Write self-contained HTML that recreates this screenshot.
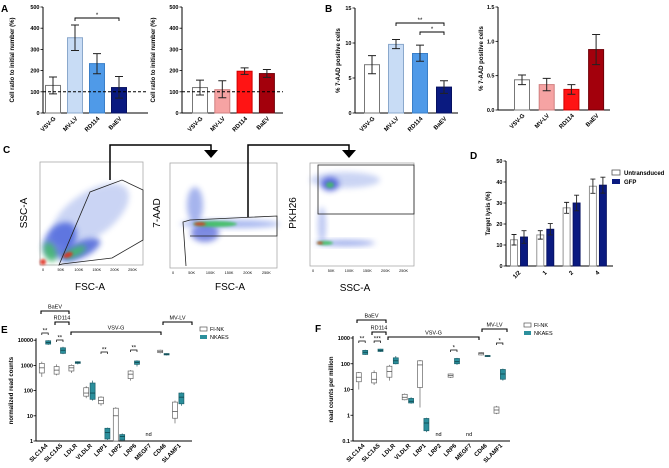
<!DOCTYPE html>
<html><head><meta charset="utf-8"><style>
html,body{margin:0;padding:0;background:#fff}
svg{display:block;font-family:"Liberation Sans",Arial,sans-serif}
</style></head><body>
<svg id="fig" width="669" height="468" viewBox="0 0 669 468" xmlns="http://www.w3.org/2000/svg">
<defs>
<filter id="blur3" x="-50%" y="-50%" width="200%" height="200%"><feGaussianBlur stdDeviation="3"/></filter>
<filter id="blur1" x="-50%" y="-50%" width="200%" height="200%"><feGaussianBlur stdDeviation="1.2"/></filter>
</defs>
<g font-weight="bold" font-size="10">
<text x="1" y="12">A</text>
<text x="325" y="12">B</text>
<text x="3" y="153">C</text>
<text x="470" y="159">D</text>
<text x="1" y="333">E</text>
<text x="315" y="332">F</text>
</g>
<g id="flow"></g>
</svg>
<script>
const NS="http://www.w3.org/2000/svg";
const svg=document.getElementById('fig');
function mk(tag,attrs,parent,text){const e=document.createElementNS(NS,tag);for(const k in attrs)e.setAttribute(k,attrs[k]);if(text!==undefined)e.textContent=text;(parent||svg).appendChild(e);return e;}

// ---------- DATA ----------
const envCats=["VSV-G","MV-LV","RD114","BaEV"];
const aLeftVals=[130,355,233,120];
const aLeftHi=[170,415,280,172];
const aLeftLo=[90,295,185,70];
const aRightVals=[120,110,197,186];
const aRightHi=[155,152,213,205];
const aRightLo=[85,72,182,168];
const aTicks=[0,100,200,300,400,500];
const bLeftVals=[6.9,9.8,8.5,3.7];
const bLeftHi=[8.2,10.5,9.7,4.6];
const bLeftLo=[5.6,9.2,7.4,2.8];
const bLeftTicks=[0,5,10,15];
const bRightVals=[0.44,0.37,0.30,0.88];
const bRightHi=[0.51,0.46,0.37,1.10];
const bRightLo=[0.37,0.28,0.23,0.66];
const bRightTicks=[0,0.5,1.0,1.5];

const dCats=["1/2","1","2","4"];
const dUntrans=[12.5,14.8,27.7,38.0];
const dUntransErr=[2.5,2.0,2.6,3.4];
const dGFP=[13.8,17.5,30.0,38.5];
const dGFPErr=[3.0,2.7,3.7,3.8];
const dTicks=[0,10,20,30,40,50];

const geneCats=["SLC1A4","SLC1A5","LDLR","VLDLR","LRP1","LRP2","LRP6","MEGF7","CD46","SLAMF1"];
// [min,q1,median,q3,max] or null = nd
const eFlnk=[[350,500,800,1200,1400],[400,450,650,900,1100],[500,600,800,1000,1100],[50,60,80,130,150],[25,30,40,55,60],[1,1,10,20,22],[250,300,450,600,650],null,[3000,3200,3500,4000,4200],[5,8,15,35,40]];
const eNkaes=[[6500,7000,8000,9500,10000],[2800,3000,4000,5000,5500],[1100,1200,1300,1400,1450],[40,45,80,200,250],[1.1,1.2,2.2,3.2,3.4],[1,1.1,1.5,1.8,2],[900,1100,1300,1500,1600],null,[2500,2600,2800,2950,3000],[25,30,55,80,85]];
const eTicks=[1,10,100,1000,10000];
const fFlnk=[[10,20,30,45,48],[15,18,25,45,55],[22,30,50,80,90],[3.8,4,5,6.5,7],[2,12,90,130,140],null,[28,30,35,40,42],null,[210,220,250,270,280],[1.1,1.2,1.6,2.1,2.3]];
const fNkaes=[[220,230,280,330,350],[290,300,330,370,380],[95,100,130,170,200],[2.8,3,3.5,4.5,5],[0.22,0.25,0.5,0.75,0.8],null,[90,100,120,160,170],null,[185,190,200,210,215],[22,25,40,60,65]];
const fTicks=[0.1,1,10,100,1000];

// ---------- BAR CHART ----------
function barChart(o){
  const g=mk('g',{});
  
  
  const y=v=>o.y0-(v-o.min)/(o.max-o.min)*(o.y0-o.yTop);
  mk('line',{x1:o.ax,y1:o.yTop,x2:o.ax,y2:o.y0,stroke:'#000','stroke-width':1},g);
  mk('line',{x1:o.ax,y1:o.y0,x2:o.axEnd,y2:o.y0,stroke:'#000','stroke-width':1},g);
  o.ticks.forEach(t=>{
    mk('line',{x1:o.ax-2.5,y1:y(t),x2:o.ax,y2:y(t),stroke:'#000','stroke-width':0.8},g);
    const tl=mk('text',{x:o.ax-3.5,y:y(t)+2,'font-size':5.5,'font-weight':'bold','text-anchor':'end'},g,o.fmt?o.fmt(t):t);
    
    
  });
  const yl=mk('text',{transform:`translate(${o.ylx},${(o.y0+o.yTop)/2}) rotate(-90)`,'font-size':6,'font-weight':'bold','text-anchor':'middle'},g,o.ylabel);
  
  
  o.cats.forEach((c,i)=>{
    const cx=o.first+i*o.step;
    const r=mk('rect',{x:cx-o.bw/2,y:y(o.vals[i]),width:o.bw,height:o.y0-y(o.vals[i]),fill:o.colors[i],stroke:o.strokes[i],'stroke-width':1},g);
    
    
    const e=mk('path',{d:`M${cx-4},${y(o.hi[i])}H${cx+4}M${cx},${y(o.hi[i])}V${y(o.lo[i])}M${cx-4},${y(o.lo[i])}H${cx+4}`,stroke:'#222','stroke-width':1,fill:'none'},g);
    
    
    const xl=mk('text',{transform:`translate(${cx+3},${o.y0+6}) rotate(-45)`,'font-size':6,'font-weight':'bold','text-anchor':'end'},g,c);
    
    
  });
  if(o.dash!==undefined){
    const d=mk('line',{x1:o.ax,y1:y(o.dash),x2:o.axEnd,y2:y(o.dash),stroke:'#000','stroke-width':1,'stroke-dasharray':'3,2'},g);
    
    
  }
  (o.sig||[]).forEach(s=>{
    const x1=o.first+s[0]*o.step,x2=o.first+s[1]*o.step;
    const b=mk('path',{d:`M${x1},${s[2]+3}V${s[2]}H${x2}V${s[2]+3}`,stroke:'#000','stroke-width':0.9,fill:'none'},g);
    
    
    mk('text',{x:(x1+x2)/2,y:s[2]-1,'font-size':6,'text-anchor':'middle'},g,s[3]);
  });
}
barChart({name:'chart-a-left',ax:43,axEnd:148,y0:113,yTop:7,min:0,max:500,ticks:aTicks,cats:envCats,vals:aLeftVals,hi:aLeftHi,lo:aLeftLo,first:53,step:22,bw:15,
 colors:['#fff','#c8dcf5','#4f9ae8','#0a1a80'],strokes:['#777','#8aa8cc','#3a7fc8','#061060'],ylx:14,ylabel:'Cell ratio to initial number (%)',dash:100,sig:[[1,3,18,'*']]});
barChart({name:'chart-a-right',ax:182,axEnd:283,y0:113,yTop:7,min:0,max:500,ticks:aTicks,cats:envCats,vals:aRightVals,hi:aRightHi,lo:aRightLo,first:200,step:22.3,bw:15,
 colors:['#fff','#f6a3a3','#ff1414','#a3000c'],strokes:['#777','#d08080','#d00000','#700008'],ylx:155,ylabel:'Cell ratio to initial number (%)',dash:100});
barChart({name:'chart-b-left',ax:355,axEnd:458,y0:113,yTop:8,min:0,max:15,ticks:bLeftTicks,cats:envCats,vals:bLeftVals,hi:bLeftHi,lo:bLeftLo,first:372,step:24,bw:15,
 colors:['#fff','#c8dcf5','#4f9ae8','#0a1a80'],strokes:['#777','#8aa8cc','#3a7fc8','#061060'],ylx:340,ylabel:'% 7-AAD positive cells',sig:[[1,3,23,'**'],[2,3,32,'*']]});
barChart({name:'chart-b-right',ax:498,axEnd:610,y0:110,yTop:7,min:0,max:1.5,ticks:bRightTicks,cats:envCats,vals:bRightVals,hi:bRightHi,lo:bRightLo,first:522,step:24.7,bw:15,fmt:t=>t.toFixed(1),
 colors:['#fff','#f6a3a3','#ff1414','#a3000c'],strokes:['#777','#d08080','#d00000','#700008'],ylx:483,ylabel:'% 7-AAD positive cells'});

// ---------- D grouped bars ----------
(function(){
  const g=mk('g',{});
  
  
  const ax=506,y0=266,yTop=161,max=50;
  const y=v=>y0-v/max*(y0-yTop);
  mk('line',{x1:ax,y1:yTop,x2:ax,y2:y0,stroke:'#000'},g);
  mk('line',{x1:ax,y1:y0,x2:613,y2:y0,stroke:'#000'},g);
  dTicks.forEach(t=>{mk('line',{x1:ax-2.5,y1:y(t),x2:ax,y2:y(t),stroke:'#000','stroke-width':0.8},g);
    mk('text',{x:ax-3.5,y:y(t)+2,'font-size':5.5,'font-weight':'bold','text-anchor':'end'},g,t);});
  mk('text',{transform:`translate(490,${(y0+yTop)/2}) rotate(-90)`,'font-size':6,'font-weight':'bold','text-anchor':'middle'},g,'Target lysis (%)');
  dCats.forEach((c,i)=>{
    const cx=519+i*26.3;
    [[dUntrans,dUntransErr,'#fff','#888',-5],[dGFP,dGFPErr,'#0a1a80','#061060',5]].forEach(s=>{
      const bx=cx+s[4],v=s[0][i],e=s[1][i];
      const r=mk('rect',{x:bx-3.5,y:y(v),width:7,height:y0-y(v),fill:s[2],stroke:s[3],'stroke-width':0.9},g);
      
      
      mk('path',{d:`M${bx-2.5},${y(v+e)}H${bx+2.5}M${bx},${y(v+e)}V${y(v-e)}M${bx-2.5},${y(v-e)}H${bx+2.5}`,stroke:'#222','stroke-width':0.9,fill:'none'},g);
    });
    mk('text',{transform:`translate(${cx+2},${y0+7}) rotate(-45)`,'font-size':6,'font-weight':'bold','text-anchor':'end'},g,c);
  });
  const l1=mk('rect',{x:612,y:170,width:8,height:5,fill:'#fff',stroke:'#555','stroke-width':0.8},g);
  
  mk('text',{x:624,y:175,'font-size':6,'font-weight':'bold'},g,'Untransduced');
  const l2=mk('rect',{x:612,y:179,width:8,height:5,fill:'#0a1a80'},g);
  
  mk('text',{x:624,y:184,'font-size':6,'font-weight':'bold'},g,'GFP');
})();

// ---------- BOX PLOTS ----------
function boxChart(o){
  const g=mk('g',{});
  
  
  const lmin=Math.log10(o.ticks[0]);
  const y=v=>o.y0-(Math.log10(v)-lmin)*o.dec;
  mk('line',{x1:o.ax,y1:o.y0-(o.ticks.length-1)*o.dec-2,x2:o.ax,y2:o.y0,stroke:'#000'},g);
  mk('line',{x1:o.ax,y1:o.y0,x2:o.axEnd,y2:o.y0,stroke:'#000'},g);
  o.ticks.forEach(t=>{mk('line',{x1:o.ax-2.5,y1:y(t),x2:o.ax,y2:y(t),stroke:'#000','stroke-width':0.8},g);
    mk('text',{x:o.ax-3,y:y(t)+2,'font-size':5.5,'font-weight':'bold','text-anchor':'end'},g,t);});
  mk('text',{transform:`translate(${o.ylx},${o.y0-(o.ticks.length-1)*o.dec/2}) rotate(-90)`,'font-size':6,'font-weight':'bold','text-anchor':'middle'},g,o.ylabel);
  geneCats.forEach((c,i)=>{
    const cx=o.first+i*o.step;
    const xl=mk('text',{transform:`translate(${cx+3},${o.y0+5}) rotate(-45)`,'font-size':6,'font-weight':'bold','text-anchor':'end'},g,c);
    
    let nd=false;
    [[o.a,'#fff','#666',-3.2],[o.b,'#2b8f9c','#1b5f6a',3.2]].forEach(s=>{
      const d=s[0][i];if(!d){nd=true;return;}
      const bx=cx+s[3];
      mk('line',{x1:bx,y1:y(d[4]),x2:bx,y2:y(d[0]),stroke:s[2],'stroke-width':0.7},g);
      const r=mk('rect',{x:bx-2.5,y:y(d[3]),width:5,height:Math.max(1,y(d[1])-y(d[3])),fill:s[1],stroke:s[2],'stroke-width':0.7},g);
      
      mk('line',{x1:bx-2.5,y1:y(d[2]),x2:bx+2.5,y2:y(d[2]),stroke:s[1]=='#fff'?'#444':'#0c3a40','stroke-width':0.7},g);
    });
    if(nd)mk('text',{x:cx,y:o.y0-5,'font-size':5.5,'text-anchor':'middle'},g,'nd');
  });
  o.brackets.forEach(b=>{
    const br=mk('path',{d:`M${b[0]},${b[2]+3}V${b[2]}H${b[1]}V${b[2]+3}`,stroke:'#000','stroke-width':1.1,fill:'none'},g);
    
    mk('text',{x:(b[0]+b[1])/2,y:b[2]-2.5,'font-size':5.5,'text-anchor':'middle'},g,b[3]);
  });
  o.sig.forEach(s=>{
    const cx=o.first+s[0]*o.step;
    mk('path',{d:`M${cx-3.2},${s[1]+2}V${s[1]}H${cx+3.2}V${s[1]+2}`,stroke:'#000','stroke-width':0.7,fill:'none'},g);
    mk('text',{x:cx,y:s[1]-0.5,'font-size':6,'text-anchor':'middle'},g,s[2]);
  });
  const l1=mk('rect',{x:o.lx,y:o.ly,width:7,height:4,fill:'#fff',stroke:'#555','stroke-width':0.7},g);
  
  mk('text',{x:o.lx+10,y:o.ly+4,'font-size':5.5},g,'Fl-NK');
  const l2=mk('rect',{x:o.lx,y:o.ly+8,width:7,height:4,fill:'#2b8f9c'},g);
  
  mk('text',{x:o.lx+10,y:o.ly+12,'font-size':5.5},g,'NKAES');
}
boxChart({name:'chart-e-normalized-counts',ax:36,axEnd:192,y0:441,dec:25.2,ticks:eTicks,a:eFlnk,b:eNkaes,first:45,step:14.8,ylx:13,ylabel:'normalized read counts',
 brackets:[[41,69,311,'BaEV'],[55,69,322,'RD114'],[71,161,332,'VSV-G'],[163,192,322,'MV-LV']],
 sig:[[0,333,'**'],[1,340,'**'],[4,352,'**'],[6,350,'**']],lx:200,ly:327});
boxChart({name:'chart-f-read-counts-per-million',ax:353,axEnd:510,y0:441,dec:25.75,ticks:fTicks,a:fFlnk,b:fNkaes,first:362,step:15.3,ylx:333,ylabel:'read counts per million',
 brackets:[[357,386,320,'BaEV'],[372,386,332,'RD114'],[388,479,337,'VSV-G'],[482,507,329,'MV-LV']],
 sig:[[0,341,'**'],[1,341,'***'],[6,350,'*'],[9,343,'*']],lx:524,ly:323});

// ---------- FLOW PLOTS (decorative) ----------
const flow=document.getElementById('flow');
function frame(x,y,w,h,name){const r=mk('rect',{x:x,y:y,width:w,height:h,fill:'#fff',stroke:'#aaa','stroke-width':0.8},flow);
  
  ['0','50K','100K','150K','200K','250K'].forEach((t,i)=>mk('text',{x:x+3+i*(w-8)/5.3,y:y+h+6,'font-size':3.8,'text-anchor':'middle'},flow,t));}
function blob(cx,cy,rx,ry,fill,op,rot,f){mk('ellipse',{cx:cx,cy:cy,rx:rx,ry:ry,fill:fill,opacity:op,transform:`rotate(${rot||0} ${cx} ${cy})`,filter:`url(#${f||'blur3'})`},flow);}
frame(40,162,103,103,'flow-plot-ssc-fsc');
blob(90,215,45,22,'#6a86e0',0.35,-35);blob(60,240,20,14,'#3050d8',0.7,-50);blob(80,250,22,8,'#2040d0',0.7,-25);
blob(75,252,12,4,'#40c060',0.9,-25);blob(50,252,6,10,'#40c060',0.8,-20);blob(68,255,5,2.5,'#e03020',0.9,-20,'blur1');blob(43,262,3,3,'#e03020',0.9,0,'blur1');
mk('polygon',{points:'59,265 90,192 122,180 143,190 143,240 112,258 62,264',fill:'none',stroke:'#222','stroke-width':0.8},flow);
frame(170,163,107,105,'flow-plot-7aad-fsc');
blob(230,224,50,4,'#4f6fe0',0.5);blob(195,205,8,18,'#3a5ad8',0.45);blob(205,233,14,9,'#2a40d0',0.6);
blob(215,224,22,3,'#40c060',0.9,0,'blur1');blob(200,224,6,1.6,'#e03020',0.9,0,'blur1');
mk('path',{d:'M186,266L183,222L190,220L277,216V236H190',fill:'none',stroke:'#222','stroke-width':0.8},flow);
frame(310,163,104,103,'flow-plot-pkh26-ssc');
blob(345,180,35,8,'#6a86e0',0.35);blob(330,184,9,7,'#2a40d0',0.7);blob(330,185,4,3,'#40c060',0.8,0,'blur1');
blob(322,225,4,18,'#5a76e0',0.4);blob(345,243,30,3,'#3a5ad8',0.5);blob(325,243,8,2,'#40c060',0.9,0,'blur1');blob(320,243,3,1.2,'#e03020',0.9,0,'blur1');
mk('rect',{x:318,y:165,width:96,height:49,fill:'none',stroke:'#222','stroke-width':0.8},flow);
[['SSC-A',27,213,-90],['7-AAD',160,213,-90],['PKH26',296,213,-90]].forEach(a=>mk('text',{transform:`translate(${a[1]},${a[2]}) rotate(${a[3]})`,'font-size':10,'text-anchor':'middle'},flow,a[0]));
mk('text',{x:90,y:290,'font-size':10,'text-anchor':'middle'},flow,'FSC-A');
mk('text',{x:230,y:290,'font-size':10,'text-anchor':'middle'},flow,'FSC-A');
mk('text',{x:355,y:291,'font-size':10,'text-anchor':'middle'},flow,'SSC-A');
const ar=mk('path',{d:'M110,180V145H211V150M248,217V145H349V150',fill:'none',stroke:'#000','stroke-width':1.5},flow);

mk('polygon',{points:'204,150 218,150 211,158',fill:'#000'},flow);
mk('polygon',{points:'342,150 356,150 349,158',fill:'#000'},flow);
</script>
</body></html>
